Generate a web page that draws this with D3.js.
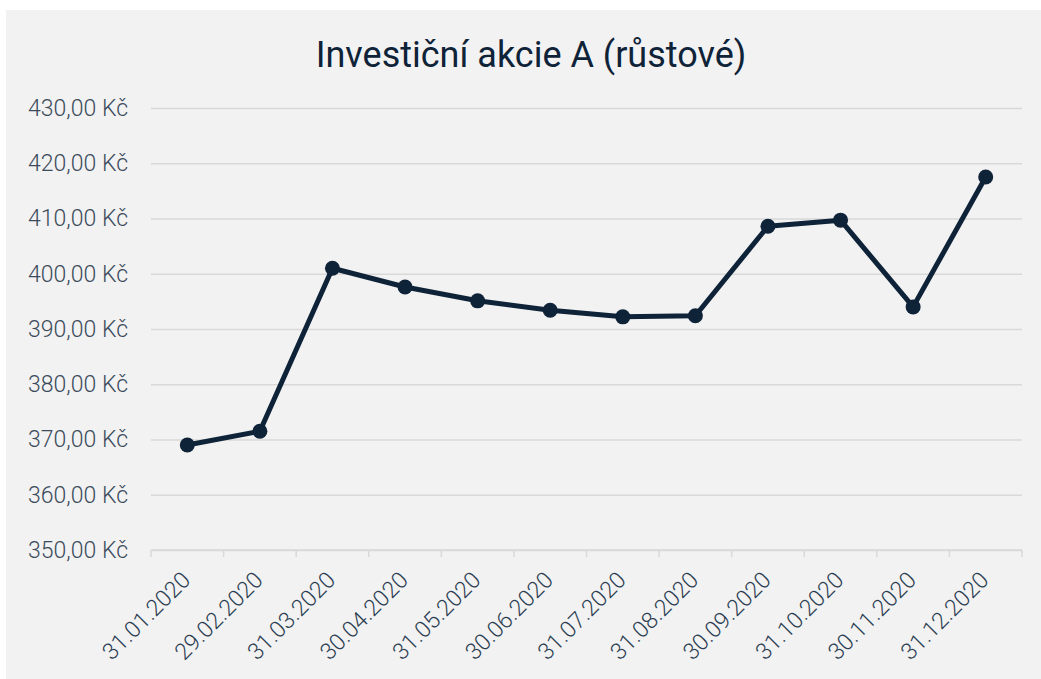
<!DOCTYPE html>
<meta charset="utf-8">
<script src="https://d3js.org/d3.v7.min.js"></script>
<style>
  body { margin: 0; background: #fff; }
  text { font-family: Roboto, "Noto Sans", sans-serif; }
</style>
<div id="chart"></div>
<script>

// data
var dates = ["31.01.2020", "29.02.2020", "31.03.2020", "30.04.2020", "31.05.2020", "30.06.2020",
             "31.07.2020", "31.08.2020", "30.09.2020", "31.10.2020", "30.11.2020", "31.12.2020"];
var prices = [369.0, 371.5, 401.0, 397.6, 395.1, 393.4, 392.2, 392.4, 408.6, 409.7, 394.0, 417.5];
var yTicks = [350, 360, 370, 380, 390, 400, 410, 420, 430];
var title = "Investiční akcie A (růstové)";

var W = 1041, H = 679;
var margin = {top: 108, right: 19, bottom: 129, left: 151},
    width = W - margin.left - margin.right,
    height = H - margin.top - margin.bottom;

var svg = d3.select("#chart")
  .append("svg")
    .attr("width", W)
    .attr("height", H);

// panel background
svg.append("rect")
  .attr("x", 6).attr("y", 10)
  .attr("width", W - 6).attr("height", H - 10)
  .attr("fill", "#f2f2f2");

svg.append("text")
  .attr("x", 531).attr("y", 67)
  .attr("text-anchor", "middle")
  .style("font-size", "36px")
  .style("font-weight", 400)
  .attr("fill", "#0e2238")
  .text(title);

var g = svg.append("g")
  .attr("transform", "translate(" + margin.left + "," + margin.top + ")");

var x = d3.scaleBand()
  .domain(dates)
  .range([0, width]);

var y = d3.scaleLinear()
  .domain([350, 430])
  .range([height, 0]);

var fmt = function(d) { return d3.format(".2f")(d).replace(".", ",") + " Kč"; };

// gridlines + y labels
var yAxis = g.append("g")
  .call(d3.axisLeft(y).tickValues(yTicks).tickSize(-width).tickFormat(fmt).tickPadding(23));
yAxis.select(".domain").remove();
yAxis.selectAll(".tick line").attr("stroke", "#d9d9d9").attr("stroke-width", 1.5);
yAxis.selectAll(".tick text")
  .attr("fill", "#3c4b5c")
  .style("font-size", "23px")
  .style("font-weight", 300);

// bottom axis with ticks at band edges
var xAxis = g.append("g")
  .attr("transform", "translate(0," + height + ")");
xAxis.append("line")
  .attr("x1", 0).attr("x2", width)
  .attr("stroke", "#d9d9d9").attr("stroke-width", 1.5);
xAxis.selectAll(".edge")
  .data(dates.concat(["end"]))
  .enter().append("line")
    .attr("x1", function(d, i) { return i * x.step(); })
    .attr("x2", function(d, i) { return i * x.step(); })
    .attr("y1", 0).attr("y2", 7)
    .attr("stroke", "#d9d9d9").attr("stroke-width", 1.5);
xAxis.selectAll(".lbl")
  .data(dates)
  .enter().append("text")
    .attr("transform", function(d) {
      return "translate(" + (x(d) + x.bandwidth() / 2 - 7) + ",20) rotate(-45)";
    })
    .attr("text-anchor", "end")
    .attr("dy", "0.7em")
    .attr("fill", "#2c3e52")
    .style("font-size", "23px")
    .style("font-weight", 300)
    .text(function(d) { return d; });

var pts = dates.map(function(d, i) { return {date: d, value: prices[i]}; });

g.append("path")
  .datum(pts)
  .attr("d", d3.line()
    .x(function(d) { return x(d.date) + x.bandwidth() / 2; })
    .y(function(d) { return y(d.value); }))
  .attr("fill", "none")
  .attr("stroke", "#0e2238")
  .attr("stroke-width", 5)
  .attr("stroke-linejoin", "round");

g.selectAll("circle")
  .data(pts)
  .enter().append("circle")
    .attr("cx", function(d) { return x(d.date) + x.bandwidth() / 2; })
    .attr("cy", function(d) { return y(d.value); })
    .attr("r", 7.5)
    .attr("fill", "#0e2238");

</script>
